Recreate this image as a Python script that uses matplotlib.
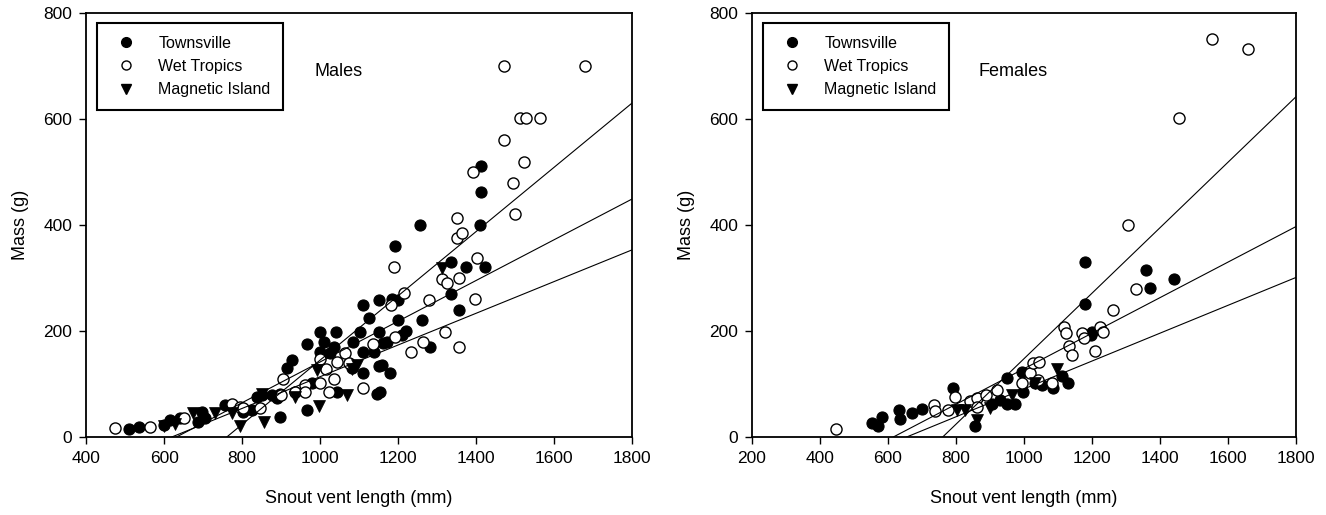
import numpy as np
import matplotlib.pyplot as plt
from matplotlib.lines import Line2D

plt.rcParams['font.family'] = ['Liberation Sans', 'DejaVu Sans']

# ---- males ----
m_town_x = [511, 537, 600, 615, 641, 688, 697, 705, 756, 803, 825, 838, 850, 876, 889, 897, 897,
            916, 927, 936, 966, 966, 980, 1000, 1000, 1009, 1026, 1036, 1041, 1043, 1081, 1085,
            1103, 1111, 1111, 1111, 1126, 1137, 1145, 1150, 1152, 1150, 1154, 1158, 1162, 1171,
            1178, 1184, 1192, 1201, 1201, 1209, 1220, 1255, 1261, 1282, 1335, 1335, 1356, 1374,
            1410, 1412, 1413, 1424]
m_town_y = [15, 18, 22, 32, 35, 29, 48, 35, 60, 48, 51, 76, 79, 79, 73, 38, 82,
            130, 145, 85, 51, 175, 101, 199, 161, 180, 158, 170, 199, 85, 130, 180,
            199, 249, 161, 120, 225, 161, 82, 133, 258, 199, 84, 136, 177, 180,
            120, 260, 360, 258, 221, 192, 200, 400, 221, 170, 330, 270, 240, 320,
            400, 511, 462, 320]

m_wet_x = [474, 564, 650, 775, 795, 803, 846, 899, 906, 936, 962, 962, 1000, 1000, 1015, 1023,
           1035, 1043, 1064, 1073, 1111, 1135, 1182, 1190, 1192, 1215, 1232, 1265, 1278, 1312,
           1320, 1325, 1352, 1355, 1357, 1364, 1391, 1396, 1402, 1471, 1472, 1494, 1500, 1513,
           1524, 1527, 1565, 1679, 1350]
m_wet_y = [16, 19, 35, 63, 57, 54, 54, 80, 109, 85, 98, 85, 148, 101, 128, 85,
           110, 142, 158, 140, 92, 175, 249, 320, 188, 271, 160, 179, 258, 298,
           198, 290, 375, 300, 170, 385, 500, 260, 338, 560, 700, 480, 421, 601,
           518, 601, 601, 700, 413]

m_mag_x = [600, 628, 675, 731, 774, 795, 855, 850, 936, 991, 998, 1068, 1081, 1094, 1312]
m_mag_y = [20, 25, 45, 45, 45, 21, 29, 82, 76, 126, 58, 79, 129, 136, 318]

# regression lines (slope, intercept)
m_slope = [0.6064, 0.3844, 0.2992]
m_icept = [-461.4, -242.9, -185.5]

# ---- females ----
f_town_x = [552, 572, 581, 631, 635, 670, 699, 792, 856, 906, 929, 949, 949, 973, 993, 998,
            1032, 1052, 1086, 1111, 1130, 1179, 1179, 1196, 1199, 1359, 1371, 1441]
f_town_y = [26, 20, 37, 51, 33, 45, 52, 92, 20, 63, 70, 111, 63, 63, 123, 85,
            102, 99, 92, 115, 101, 250, 330, 193, 199, 315, 282, 299]

f_wet_x = [447, 735, 738, 777, 797, 841, 861, 861, 888, 920, 993, 1018, 1025, 1045, 1042, 1082,
           1118, 1124, 1133, 1140, 1170, 1175, 1210, 1224, 1233, 1261, 1307, 1329, 1456, 1552, 1660]
f_wet_y = [15, 60, 49, 51, 76, 67, 73, 57, 79, 89, 101, 120, 139, 141, 108, 101,
           207, 196, 172, 155, 196, 186, 162, 207, 199, 240, 400, 279, 601, 750, 732]

f_mag_x = [802, 826, 861, 900, 964, 1032, 1096]
f_mag_y = [51, 51, 32, 54, 79, 101, 128]

f_slope = [0.6179, 0.3353, 0.2629]
f_icept = [-470.2, -206.5, -172.2]

fig = plt.figure(figsize=(13.26, 5.15), dpi=100)
ax1 = fig.add_axes([0.0649, 0.1515, 0.4118, 0.8233])
ax2 = fig.add_axes([0.5671, 0.1515, 0.4103, 0.8233])


def panel(ax, tx, ty, wx, wy, mx, my, slopes, icepts, xmin, title, title_x):
    ax.plot(tx, ty, 'o', ms=8, mfc='black', mec='black', mew=0.8, ls='none', zorder=2)
    ax.plot(wx, wy, 'o', ms=8, mfc='white', mec='black', mew=1.0, ls='none', zorder=2)
    ax.plot(mx, my, 'v', ms=8.5, mfc='black', mec='black', mew=0.5, ls='none', zorder=2)
    for m, b in zip(slopes, icepts):
        x0 = -b / m
        xs = np.array([x0, 1800])
        ax.plot(xs, m * xs + b, color='black', lw=0.8, zorder=3)
    ax.set_xlim(xmin, 1800)
    ax.set_ylim(0, 800)
    ax.set_xticks(np.arange(xmin, 1801, 200))
    ax.set_yticks([0, 200, 400, 600, 800])
    ax.tick_params(direction='out', length=5, width=1, labelsize=12.5, pad=5)
    for s in ax.spines.values():
        s.set_linewidth(1.3)
    ax.set_xlabel('Snout vent length (mm)', fontsize=13)
    ax.set_ylabel('Mass (g)', fontsize=13)
    ax.xaxis.set_label_coords(0.5, -0.125)
    ax.yaxis.set_label_coords(-0.105, 0.5)
    ax.text(title_x, 690, title, fontsize=13, va='center', ha='left')
    handles = [
        Line2D([], [], marker='o', ls='none', ms=7, mfc='black', mec='black'),
        Line2D([], [], marker='o', ls='none', ms=6.5, mfc='white', mec='black', mew=1),
        Line2D([], [], marker='v', ls='none', ms=7, mfc='black', mec='black'),
    ]
    leg = ax.legend(handles, ['Townsville', 'Wet Tropics', 'Magnetic Island'],
                    loc='upper left', bbox_to_anchor=(0.02, 0.976), borderaxespad=0,
                    fancybox=False, edgecolor='black', framealpha=1, fontsize=11.5,
                    borderpad=0.8, labelspacing=0.51, handletextpad=1.05,
                    handlelength=2.0)
    leg.get_frame().set_linewidth(1.5)


panel(ax1, m_town_x, m_town_y, m_wet_x, m_wet_y, m_mag_x, m_mag_y,
      m_slope, m_icept, 400, 'Males', 985)
panel(ax2, f_town_x, f_town_y, f_wet_x, f_wet_y, f_mag_x, f_mag_y,
      f_slope, f_icept, 200, 'Females', 865)

fig.savefig('out.png', dpi=100)
